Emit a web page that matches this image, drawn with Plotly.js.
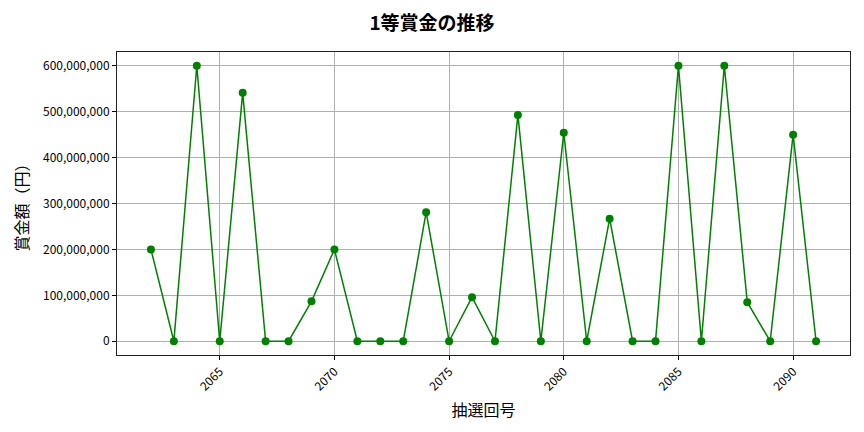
<!DOCTYPE html>
<html>
<head>
<meta charset="utf-8">
<script src="https://cdn.plot.ly/plotly-3.0.1.min.js"></script>
<style>
  html, body { margin: 0; padding: 0; background: #fff; }
  #chart { width: 864px; height: 432px; }
</style>
</head>
<body>
<div id="chart"></div>
<script>
// 抽選回号と1等賞金
const drawNumbers = [2062, 2063, 2064, 2065, 2066, 2067, 2068, 2069, 2070, 2071,
                     2072, 2073, 2074, 2075, 2076, 2077, 2078, 2079, 2080, 2081,
                     2082, 2083, 2084, 2085, 2086, 2087, 2088, 2089, 2090, 2091];
const prizes = [200000000, 0, 600000000, 0, 541000000, 0, 0, 87000000, 200000000, 0,
                0, 0, 281000000, 0, 96000000, 0, 493000000, 0, 454000000, 0,
                267000000, 0, 0, 600000000, 0, 600000000, 85000000, 0, 450000000, 0];
const xTicks = [2065, 2070, 2075, 2080, 2085, 2090];
const yTicks = [0, 100000000, 200000000, 300000000, 400000000, 500000000, 600000000];

const font = 'Noto Sans CJK JP, Noto Sans, sans-serif';

document.addEventListener('DOMContentLoaded', () => {
    Plotly.newPlot('chart', [{
        x: drawNumbers,
        y: prizes,
        type: 'scatter',
        mode: 'lines+markers',
        line: { color: '#008000', width: 1.5 },
        marker: { color: '#008000', size: 8 }
    }], {
        width: 864,
        height: 432,
        margin: { l: 117, r: 14, t: 52, b: 77 },
        paper_bgcolor: '#fff',
        plot_bgcolor: '#fff',
        font: { family: font, color: '#000', size: 12 },
        showlegend: false,
        title: {
            text: '<b>1等賞金の推移</b>',
            font: { family: font, size: 19, color: '#000' },
            x: 0.5, xanchor: 'center',
            y: 0.945, yanchor: 'middle'
        },
        xaxis: {
            range: [2060.52, 2092.48],
            tickvals: xTicks,
            ticktext: xTicks.map(String),
            tickangle: -45,
            ticks: 'outside', ticklen: 4, tickcolor: '#000',
            showgrid: true, gridcolor: '#b0b0b0', gridwidth: 1,
            showline: true, linecolor: '#222', linewidth: 1, mirror: true,
            zeroline: false,
            tickfont: { size: 12 },
            title: { text: '抽選回号', font: { family: font, size: 16 }, standoff: 12 }
        },
        yaxis: {
            range: [-30000000, 630000000],
            tickvals: yTicks,
            ticktext: yTicks.map(v => v.toLocaleString('en-US')),
            ticks: 'outside', ticklen: 4, tickcolor: '#000',
            showgrid: true, gridcolor: '#b0b0b0', gridwidth: 1,
            showline: true, linecolor: '#222', linewidth: 1, mirror: true,
            zeroline: false,
            tickfont: { size: 12 },
            title: { text: '賞金額（円）', font: { family: font, size: 16 }, standoff: 10 }
        }
    }, { displayModeBar: false, staticPlot: true });
});
</script>
</body>
</html>
